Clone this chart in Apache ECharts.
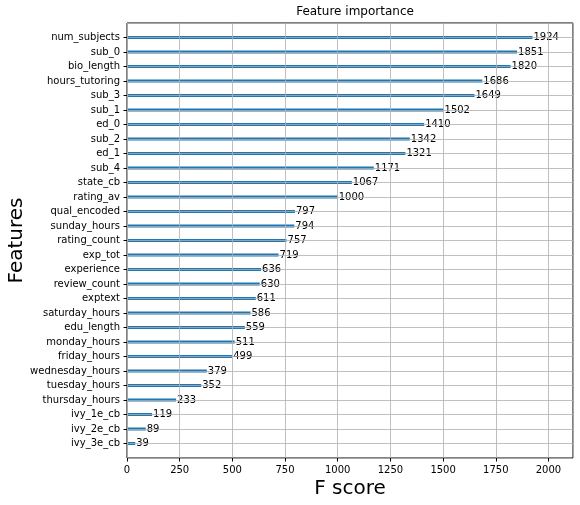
<!DOCTYPE html>
<html>
<head>
<meta charset="utf-8">
<script src="https://cdn.jsdelivr.net/npm/echarts@6/dist/echarts.min.js"></script>
<style>html,body{margin:0;padding:0;background:#fff}#c{width:580px;height:505px}</style>
</head>
<body>
<div id="c"></div>
<script>
const features = ['num_subjects','sub_0','bio_length','hours_tutoring','sub_3','sub_1','ed_0','sub_2','ed_1','sub_4','state_cb','rating_av','qual_encoded','sunday_hours','rating_count','exp_tot','experience','review_count','exptext','saturday_hours','edu_length','monday_hours','friday_hours','wednesday_hours','tuesday_hours','thursday_hours','ivy_1e_cb','ivy_2e_cb','ivy_3e_cb'];
const fScores = [1924,1851,1820,1686,1649,1502,1410,1342,1321,1171,1067,1000,797,794,757,719,636,630,611,586,559,511,499,379,352,233,119,89,39];
const xTicks = [0,250,500,750,1000,1250,1500,1750,2000];

const FONT = 'DejaVu Sans';
const xMax = Math.max(...fScores) * 1.1;
const cats = [''].concat(features, ['']);
const vals = [null].concat(fScores, [null]);

const chart = echarts.init(document.getElementById('c'));
chart.setOption({
  animation: false,
  textStyle: {fontFamily: FONT},
  title: {
    text: 'Feature importance', left: 350, top: 1, textAlign: 'center',
    textStyle: {fontFamily: FONT, fontSize: 12, fontWeight: 'normal', color: '#000'}
  },
  grid: {left: 127, right: 7, top: 23, bottom: 47, show: true, borderColor: '#000', borderWidth: 1,
    backgroundColor: 'transparent', containLabel: false, outerBoundsMode: 'none'},
  xAxis: {
    type: 'value', min: 0, max: xMax, interval: 250, z: 3,
    name: 'F score', nameLocation: 'middle', nameGap: 21, nameMoveOverlap: false,
    nameTextStyle: {fontFamily: FONT, fontSize: 20, color: '#000', verticalAlign: 'top'},
    axisLine: {show: false},
    axisTick: {show: true, length: 3.5, lineStyle: {color: '#000'}},
    axisLabel: {fontFamily: FONT, fontSize: 10, color: '#000', margin: 7, showMaxLabel: false,
      formatter: v => xTicks.includes(v) ? String(v) : ''},
    splitLine: {show: true, lineStyle: {color: '#b0b0b0', width: 0.8}}
  },
  yAxis: {
    type: 'category', data: cats, inverse: true, boundaryGap: false, z: 3,
    name: 'Features', nameLocation: 'middle', nameGap: 100, nameMoveOverlap: false,
    nameTextStyle: {fontFamily: FONT, fontSize: 20, color: '#000'},
    axisLine: {show: false},
    axisTick: {show: true, length: 3.5, lineStyle: {color: '#000'}, interval: (i, v) => v !== ''},
    axisLabel: {fontFamily: FONT, fontSize: 10, color: '#000', margin: 7, interval: 0},
    splitLine: {show: true, interval: 0, lineStyle: {color: '#b0b0b0', width: 0.8}}
  },
  series: [{
    type: 'bar', data: vals, barWidth: 3, z: 2,
    itemStyle: {color: '#1f77b4'},
    label: {show: true, position: 'right', distance: 1, fontFamily: FONT, fontSize: 10, color: '#000'}
  }]
});
</script>
</body>
</html>
